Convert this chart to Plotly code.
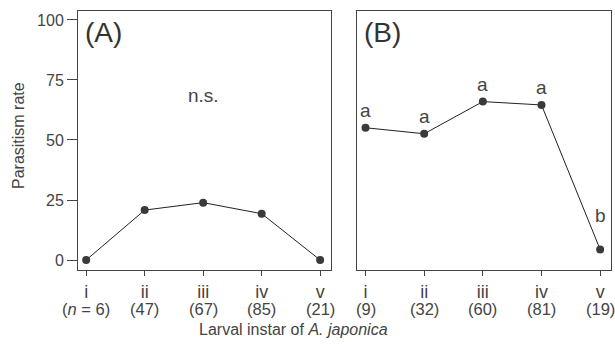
import plotly.graph_objects as go

instars = ["i", "ii", "iii", "iv", "v"]
n_a = ["(<i>n</i> = 6)", "(47)", "(67)", "(85)", "(21)"]
n_b = ["(9)", "(32)", "(60)", "(81)", "(19)"]
rate_a = [0.0, 20.8, 23.9, 19.3, 0.0]
rate_b = [55.1, 52.6, 66.0, 64.6, 4.4]
letters_b = ["a", "a", "a", "a", "b"]
y_ticks = [0, 25, 50, 75, 100]

FONT = "Liberation Sans, Arial, Helvetica, sans-serif"
TXT = "#444444"
xpos = [1, 2, 3, 4, 5]

fig = go.Figure()
for vals, xa, ya in [(rate_a, "x", "y"), (rate_b, "x2", "y2")]:
    fig.add_trace(go.Scatter(
        x=xpos, y=vals, xaxis=xa, yaxis=ya, mode="lines+markers",
        line=dict(color="#222222", width=1),
        marker=dict(color="#3a3a3a", size=8),
        showlegend=False, hoverinfo="skip"))

common_x = dict(range=[0.86, 5.18], tickmode="array", tickvals=xpos, ticktext=instars,
                showline=True, linecolor="#444444", linewidth=1, mirror=True,
                ticks="outside", ticklen=5, tickcolor="#444444",
                tickfont=dict(family=FONT, size=18, color=TXT),
                showgrid=False, zeroline=False, fixedrange=True)
common_y = dict(range=[-4.17, 103.75], tickmode="array", tickvals=y_ticks,
                showline=True, linecolor="#444444", linewidth=1, mirror=True,
                showgrid=False, zeroline=False, fixedrange=True,
                domain=[0.2241, 0.9684])

fig.update_layout(
    width=615, height=348, margin=dict(l=0, r=0, t=0, b=0),
    paper_bgcolor="white", plot_bgcolor="white",
    font=dict(family=FONT, color=TXT),
    xaxis=dict(common_x, domain=[0.1268, 0.5377]),
    xaxis2=dict(common_x, domain=[0.581, 0.993], anchor="y2"),
    yaxis=dict(common_y, ticks="outside", ticklen=10, tickcolor="#444444",
               tickfont=dict(family=FONT, size=16, color=TXT)),
    yaxis2=dict(common_y, showticklabels=False, ticks="", anchor="x2"),
)

ann = []
for lab, xd, yd in [("(A)", "x domain", "y domain"), ("(B)", "x2 domain", "y2 domain")]:
    ann.append(dict(text=lab, xref=xd, yref=yd, x=0.02, y=0.985,
                    xanchor="left", yanchor="top", showarrow=False,
                    font=dict(family=FONT, size=28, color="#333333")))
ann.append(dict(text="n.s.", xref="x", yref="y", x=3, y=68.7, showarrow=False,
                font=dict(family=FONT, size=19, color=TXT)))
shifts = [17, 17, 17, 17, 34]
for x, v, l, s in zip(xpos, rate_b, letters_b, shifts):
    ann.append(dict(text=l, xref="x2", yref="y2", x=x, y=v, yshift=s,
                    showarrow=False, font=dict(family=FONT, size=19, color=TXT)))
for xr, ns in [("x", n_a), ("x2", n_b)]:
    for x, n in zip(xpos, ns):
        ann.append(dict(text=n, xref=xr, yref="paper", x=x, y=1 - 309 / 348,
                        xanchor="center", yanchor="middle",
                        showarrow=False, font=dict(family=FONT, size=16.5, color=TXT)))
ann.append(dict(text="Larval instar of <i>A. japonica</i>", xref="paper", yref="paper",
                x=0.478, y=1 - 329 / 348, xanchor="center", yanchor="middle",
                showarrow=False, font=dict(family=FONT, size=16, color=TXT)))
ann.append(dict(text="Parasitism rate", xref="paper", yref="paper", x=18 / 615, y=1 - 136 / 348,
                xanchor="center", yanchor="middle",
                textangle=-90, showarrow=False,
                font=dict(family=FONT, size=16, color=TXT)))
fig.update_layout(annotations=ann)

fig.write_html("out.html", config={"displayModeBar": False},
               post_script="document.body.style.margin='0';")
